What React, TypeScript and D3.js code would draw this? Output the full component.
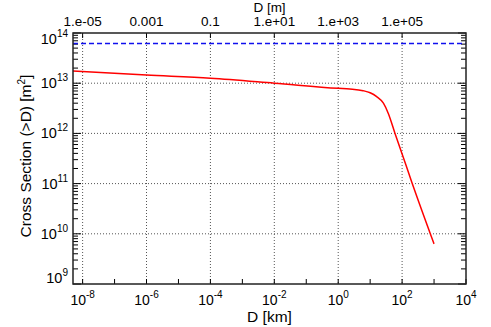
import React, { useEffect, useRef } from 'react'
import * as d3 from 'd3'

// red curve: cumulative cross section vs diameter (km)
const diamKm = [5e-9, 1e-6, 1e-4, 1e-2, 1, 2.3, 6, 10, 16, 26, 37, 60, 100, 200, 1000]
const crossSection = [1.75e13, 1.45e13, 1.25e13, 1.0e13, 7.9e12, 7.65e12, 7.1e12, 6.45e12, 5.4e12, 4.0e12, 2.5e12, 1.0e12, 3.9e11, 1.08e11, 6.3e9]
// blue dashed reference level
const refLevel = 6.2e13

const xLabelExps = [-8, -6, -4, -2, 0, 2, 4]
const yLabelExps = [9, 10, 11, 12, 13, 14]
const topTickKm = [1e-8, 1e-6, 1e-4, 1e-2, 1, 100]
const topTickLabels = ['1.e-05', '0.001', '0.1', '1.e+01', '1.e+03', '1.e+05']

const W = 491, H = 327
const FONT = '"Liberation Sans", Arial, Helvetica, sans-serif'

export default function App() {
  const ref = useRef<SVGSVGElement>(null)

  useEffect(() => {
    const svg = d3.select(ref.current)
    svg.selectAll('*').remove()

    const left = 73, right = 466, top = 33, bottom = 284
    const x = d3.scaleLog().domain([5e-9, 1e4]).range([left, right])
    const y = d3.scaleLog().domain([1e9, 1e14]).range([bottom, top])

    const g = svg.append('g').attr('font-family', FONT)

    // grid
    const gridX = xLabelExps.filter(e => e < 4).map(e => Math.pow(10, e))
    g.selectAll('.gx').data(gridX).enter().append('line')
      .attr('x1', d => x(d)).attr('x2', d => x(d))
      .attr('y1', top).attr('y2', bottom)
      .attr('stroke', '#555').attr('stroke-dasharray', '1,2')
    const gridY = [10, 11, 12, 13].map(e => Math.pow(10, e))
    g.selectAll('.gy').data(gridY).enter().append('line')
      .attr('x1', left).attr('x2', right)
      .attr('y1', d => y(d)).attr('y2', d => y(d))
      .attr('stroke', '#555').attr('stroke-dasharray', '1,2')

    // y ticks (major + minor), both sides, pointing inward
    const yTicks: [number, number][] = []
    for (let e = 9; e < 14; e++) {
      for (let m = 1; m < 10; m++) yTicks.push([m * Math.pow(10, e), m === 1 ? 8 : 5])
    }
    yTicks.push([1e14, 8])
    g.selectAll('.yl').data(yTicks).enter().append('line')
      .attr('x1', left).attr('x2', d => left + d[1])
      .attr('y1', d => y(d[0])).attr('y2', d => y(d[0]))
      .attr('stroke', '#000')
    g.selectAll('.yr').data(yTicks).enter().append('line')
      .attr('x1', right).attr('x2', d => right - d[1])
      .attr('y1', d => y(d[0])).attr('y2', d => y(d[0]))
      .attr('stroke', '#000')

    // x ticks bottom, every decade
    const xTicks = d3.range(-8, 5).map(e => Math.pow(10, e))
    g.selectAll('.xb').data(xTicks).enter().append('line')
      .attr('x1', d => x(d)).attr('x2', d => x(d))
      .attr('y1', bottom).attr('y2', bottom - 5)
      .attr('stroke', '#000')
    g.selectAll('.xt').data(topTickKm).enter().append('line')
      .attr('x1', d => x(d)).attr('x2', d => x(d))
      .attr('y1', top).attr('y2', top + 5)
      .attr('stroke', '#000')

    // reference level
    g.append('line')
      .attr('x1', left).attr('x2', right)
      .attr('y1', y(refLevel)).attr('y2', y(refLevel))
      .attr('stroke', '#1010ee').attr('stroke-width', 1.5)
      .attr('stroke-dasharray', '5,3')

    // curve
    const line = d3.line<number>()
      .x((d, i) => x(diamKm[i]))
      .y(d => y(d))
      .curve(d3.curveMonotoneX)
    g.append('path').datum(crossSection)
      .attr('d', line)
      .attr('fill', 'none').attr('stroke', '#ff0000').attr('stroke-width', 1.5)

    // frame
    g.append('rect')
      .attr('x', left).attr('y', top)
      .attr('width', right - left).attr('height', bottom - top)
      .attr('fill', 'none').attr('stroke', '#222').attr('stroke-width', 1.5)

    // bottom labels
    const xl = g.selectAll('.xlab').data(xLabelExps).enter().append('text')
      .attr('x', d => x(Math.pow(10, d)))
      .attr('y', 305)
      .attr('text-anchor', 'middle')
      .attr('font-size', 14)
    xl.append('tspan').text('10')
    xl.append('tspan').attr('dy', -7).attr('font-size', 10).text(d => String(d))

    // left labels
    const yl = g.selectAll('.ylab').data(yLabelExps).enter().append('text')
      .attr('x', 68)
      .attr('y', d => {
        let yy = y(Math.pow(10, d)) + 5
        if (d === 14) yy += 6
        if (d === 9) yy -= 6
        return yy
      })
      .attr('text-anchor', 'end')
      .attr('font-size', 14.5)
    yl.append('tspan').text('10')
    yl.append('tspan').attr('dy', -7).attr('font-size', 10).text(d => String(d))

    // top labels
    g.selectAll('.tlab').data(topTickLabels).enter().append('text')
      .attr('x', (d, i) => x(topTickKm[i]))
      .attr('y', 26)
      .attr('text-anchor', 'middle')
      .attr('font-size', 13.5)
      .text(d => d)

    g.append('text')
      .attr('x', (left + right) / 2).attr('y', 12)
      .attr('text-anchor', 'middle').attr('font-size', 13.5)
      .text('D [m]')

    g.append('text')
      .attr('x', (left + right) / 2).attr('y', 322)
      .attr('text-anchor', 'middle').attr('font-size', 15.5)
      .text('D [km]')

    const yt = g.append('text')
      .attr('transform', `translate(31,156) rotate(-90)`)
      .attr('text-anchor', 'middle').attr('font-size', 15.5)
    yt.append('tspan').text('Cross Section (>D) [m')
    yt.append('tspan').attr('dy', -6).attr('font-size', 10).text('2')
    yt.append('tspan').attr('dy', 6).text(']')
  }, [])

  return (
    <svg ref={ref} width={W} height={H}
      style={{ position: 'absolute', left: 0, top: 0, background: '#fff' }} />
  )
}
